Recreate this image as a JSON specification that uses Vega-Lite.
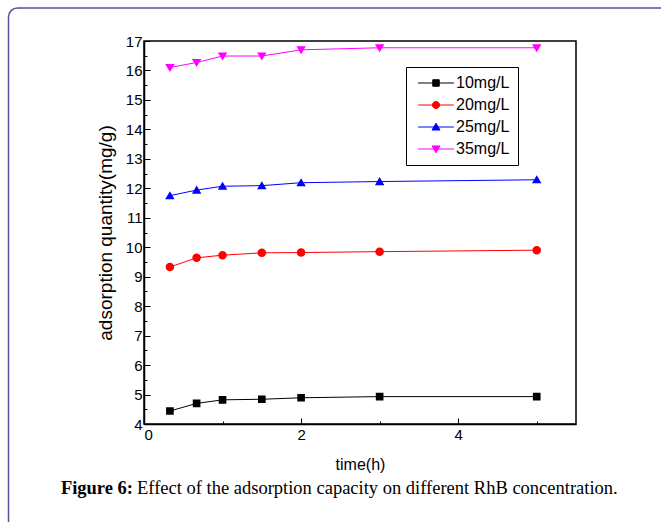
{
  "$schema": "https://vega.github.io/schema/vega-lite/v6.json",
  "width": 432,
  "height": 383,
  "autosize": {"type": "none"},
  "padding": {"left": 144, "top": 41, "right": 85, "bottom": 98},
  "background": "white",
  "config": {
    "view": {"stroke": "#000", "strokeWidth": 1.5},
    "font": "Liberation Sans"
  },
  "datasets": {
    "series": [
      {"t": 0.33, "c": "10mg/L", "q": 4.44},
      {"t": 0.67, "c": "10mg/L", "q": 4.70},
      {"t": 1.0, "c": "10mg/L", "q": 4.82},
      {"t": 1.5, "c": "10mg/L", "q": 4.84},
      {"t": 2.0, "c": "10mg/L", "q": 4.89},
      {"t": 3.0, "c": "10mg/L", "q": 4.93},
      {"t": 5.0, "c": "10mg/L", "q": 4.93},
      {"t": 0.33, "c": "20mg/L", "q": 9.33},
      {"t": 0.67, "c": "20mg/L", "q": 9.64},
      {"t": 1.0, "c": "20mg/L", "q": 9.73},
      {"t": 1.5, "c": "20mg/L", "q": 9.81},
      {"t": 2.0, "c": "20mg/L", "q": 9.82},
      {"t": 3.0, "c": "20mg/L", "q": 9.85},
      {"t": 5.0, "c": "20mg/L", "q": 9.90},
      {"t": 0.33, "c": "25mg/L", "q": 11.75},
      {"t": 0.67, "c": "25mg/L", "q": 11.94},
      {"t": 1.0, "c": "25mg/L", "q": 12.07},
      {"t": 1.5, "c": "25mg/L", "q": 12.09},
      {"t": 2.0, "c": "25mg/L", "q": 12.19},
      {"t": 3.0, "c": "25mg/L", "q": 12.23},
      {"t": 5.0, "c": "25mg/L", "q": 12.29},
      {"t": 0.33, "c": "35mg/L", "q": 16.10},
      {"t": 0.67, "c": "35mg/L", "q": 16.27},
      {"t": 1.0, "c": "35mg/L", "q": 16.49},
      {"t": 1.5, "c": "35mg/L", "q": 16.49},
      {"t": 2.0, "c": "35mg/L", "q": 16.70},
      {"t": 3.0, "c": "35mg/L", "q": 16.77},
      {"t": 5.0, "c": "35mg/L", "q": 16.77}
    ]
  },
  "layer": [
    {
      "data": {"values": [{"part": "frame"}]},
      "mark": {"type": "rect", "fill": "#ffffff", "fillOpacity": 0, "stroke": "#5a5099", "strokeWidth": 1.5, "cornerRadius": 9},
      "encoding": {
        "x": {"datum": -1.725, "type": "quantitative", "title": "time(h)",
          "scale": {"domain": [0, 5.5], "nice": false, "zero": false},
          "axis": {"values": [0, 1, 2, 3, 4, 5], "labelExpr": "datum.value % 2 === 0 ? format(datum.value, 'd') : ''", "grid": false, "domainColor": "#000", "domainWidth": 1.5, "tickColor": "#000", "tickWidth": 1, "tickSize": {"condition": {"test": "datum.value % 2 === 0", "value": -6}, "value": -3}, "labelFontSize": 15, "labelColor": "#000", "labelPadding": 9, "titleFontSize": 16, "titleFontWeight": "normal", "titleColor": "#000", "titlePadding": 14}},
        "x2": {"datum": 7.1},
        "y": {"datum": 18.12, "type": "quantitative", "title": "adsorption quantity(mg/g)",
          "scale": {"domain": [4, 17], "nice": false, "zero": false},
          "axis": {"values": [4, 4.5, 5, 5.5, 6, 6.5, 7, 7.5, 8, 8.5, 9, 9.5, 10, 10.5, 11, 11.5, 12, 12.5, 13, 13.5, 14, 14.5, 15, 15.5, 16, 16.5, 17], "labelExpr": "datum.value % 1 === 0 ? format(datum.value, 'd') : ''", "grid": false, "domainColor": "#000", "domainWidth": 1.5, "tickColor": "#000", "tickWidth": 1, "tickSize": {"condition": {"test": "datum.value % 1 === 0", "value": -6}, "value": -3}, "labelFontSize": 15, "labelColor": "#000", "labelPadding": 8, "titleFontSize": 19, "titleFontWeight": "normal", "titleColor": "#000", "titlePadding": 10}},
        "y2": {"datum": -0.7}
      }
    },
    {
      "data": {"name": "series"},
      "mark": {"type": "line", "strokeWidth": 1},
      "encoding": {
        "x": {"field": "t", "type": "quantitative", "title": "time(h)",
          "scale": {"domain": [0, 5.5], "nice": false, "zero": false},
          "axis": {"values": [0, 1, 2, 3, 4, 5], "labelExpr": "datum.value % 2 === 0 ? format(datum.value, 'd') : ''", "grid": false, "domainColor": "#000", "domainWidth": 1.5, "tickColor": "#000", "tickWidth": 1, "tickSize": {"condition": {"test": "datum.value % 2 === 0", "value": -6}, "value": -3}, "labelFontSize": 15, "labelColor": "#000", "labelPadding": 9, "titleFontSize": 16, "titleFontWeight": "normal", "titleColor": "#000", "titlePadding": 14}},
        "y": {"field": "q", "type": "quantitative", "title": "adsorption quantity(mg/g)",
          "scale": {"domain": [4, 17], "nice": false, "zero": false},
          "axis": {"values": [4, 4.5, 5, 5.5, 6, 6.5, 7, 7.5, 8, 8.5, 9, 9.5, 10, 10.5, 11, 11.5, 12, 12.5, 13, 13.5, 14, 14.5, 15, 15.5, 16, 16.5, 17], "labelExpr": "datum.value % 1 === 0 ? format(datum.value, 'd') : ''", "grid": false, "domainColor": "#000", "domainWidth": 1.5, "tickColor": "#000", "tickWidth": 1, "tickSize": {"condition": {"test": "datum.value % 1 === 0", "value": -6}, "value": -3}, "labelFontSize": 15, "labelColor": "#000", "labelPadding": 8, "titleFontSize": 19, "titleFontWeight": "normal", "titleColor": "#000", "titlePadding": 10}},
        "color": {
          "field": "c", "type": "nominal",
          "scale": {"domain": ["10mg/L", "20mg/L", "25mg/L", "35mg/L"], "range": ["#000000", "#ff0000", "#0000ff", "#ff00ff"]},
          "legend": {"title": null, "orient": "none", "legendX": 262, "legendY": 26, "padding": 8, "strokeColor": "#000", "fillColor": "#fff", "labelFontSize": 16, "labelColor": "#000", "labelOffset": 12, "symbolOffset": 14, "symbolSize": 58, "symbolStrokeWidth": 1, "rowPadding": 6,
            "encode": {"symbols": {"update": {"stroke": {"scale": "color", "field": "value"}, "fill": {"scale": "color", "field": "value"}, "strokeWidth": {"value": 1}}}}}
        }
      }
    },
    {
      "data": {"name": "series"},
      "mark": {"type": "point", "filled": true, "opacity": 1, "strokeWidth": 0, "size": 81},
      "encoding": {
        "x": {"field": "t", "type": "quantitative", "title": "time(h)",
          "scale": {"domain": [0, 5.5], "nice": false, "zero": false},
          "axis": {"values": [0, 1, 2, 3, 4, 5], "labelExpr": "datum.value % 2 === 0 ? format(datum.value, 'd') : ''", "grid": false, "domainColor": "#000", "domainWidth": 1.5, "tickColor": "#000", "tickWidth": 1, "tickSize": {"condition": {"test": "datum.value % 2 === 0", "value": -6}, "value": -3}, "labelFontSize": 15, "labelColor": "#000", "labelPadding": 9, "titleFontSize": 16, "titleFontWeight": "normal", "titleColor": "#000", "titlePadding": 14}},
        "y": {"field": "q", "type": "quantitative", "title": "adsorption quantity(mg/g)",
          "scale": {"domain": [4, 17], "nice": false, "zero": false},
          "axis": {"values": [4, 4.5, 5, 5.5, 6, 6.5, 7, 7.5, 8, 8.5, 9, 9.5, 10, 10.5, 11, 11.5, 12, 12.5, 13, 13.5, 14, 14.5, 15, 15.5, 16, 16.5, 17], "labelExpr": "datum.value % 1 === 0 ? format(datum.value, 'd') : ''", "grid": false, "domainColor": "#000", "domainWidth": 1.5, "tickColor": "#000", "tickWidth": 1, "tickSize": {"condition": {"test": "datum.value % 1 === 0", "value": -6}, "value": -3}, "labelFontSize": 15, "labelColor": "#000", "labelPadding": 8, "titleFontSize": 19, "titleFontWeight": "normal", "titleColor": "#000", "titlePadding": 10}},
        "color": {
          "field": "c", "type": "nominal",
          "scale": {"domain": ["10mg/L", "20mg/L", "25mg/L", "35mg/L"], "range": ["#000000", "#ff0000", "#0000ff", "#ff00ff"]},
          "legend": {"title": null, "orient": "none", "legendX": 262, "legendY": 26, "padding": 8, "strokeColor": "#000", "fillColor": "#fff", "labelFontSize": 16, "labelColor": "#000", "labelOffset": 12, "symbolOffset": 14, "symbolSize": 58, "symbolStrokeWidth": 1, "rowPadding": 6,
            "encode": {"symbols": {"update": {"stroke": {"scale": "color", "field": "value"}, "fill": {"scale": "color", "field": "value"}, "strokeWidth": {"value": 1}}}}}
        },
        "shape": {
          "field": "c", "type": "nominal",
          "scale": {
            "domain": ["10mg/L", "20mg/L", "25mg/L", "35mg/L"],
            "range": [
              "M-4.7,0H4.7M-0.85,-0.85H0.85V0.85H-0.85Z",
              "M-4.7,0H4.7M-0.95,0A0.95,0.95 0 1,0 0.95,0A0.95,0.95 0 1,0 -0.95,0Z",
              "M-4.7,0H4.7M-1.05,0.8H1.05L0,-1Z",
              "M-4.7,0H4.7M-1.05,-0.8H1.05L0,1Z"
            ]
          },
          "legend": {"title": null, "orient": "none", "legendX": 262, "legendY": 26, "padding": 8, "strokeColor": "#000", "fillColor": "#fff", "labelFontSize": 16, "labelColor": "#000", "labelOffset": 12, "symbolOffset": 14, "symbolSize": 58, "symbolStrokeWidth": 1, "rowPadding": 6,
            "encode": {"symbols": {"update": {"stroke": {"scale": "color", "field": "value"}, "fill": {"scale": "color", "field": "value"}, "strokeWidth": {"value": 1}}}}}
        }
      }
    },
    {
      "data": {"values": [{"label": "Figure 6:"}]},
      "mark": {"type": "text", "font": "Liberation Serif", "fontSize": 18.5, "fontWeight": "bold", "align": "right", "baseline": "alphabetic", "color": "#000"},
      "encoding": {
        "x": {"datum": -0.14, "type": "quantitative", "title": "time(h)",
          "scale": {"domain": [0, 5.5], "nice": false, "zero": false},
          "axis": {"values": [0, 1, 2, 3, 4, 5], "labelExpr": "datum.value % 2 === 0 ? format(datum.value, 'd') : ''", "grid": false, "domainColor": "#000", "domainWidth": 1.5, "tickColor": "#000", "tickWidth": 1, "tickSize": {"condition": {"test": "datum.value % 2 === 0", "value": -6}, "value": -3}, "labelFontSize": 15, "labelColor": "#000", "labelPadding": 9, "titleFontSize": 16, "titleFontWeight": "normal", "titleColor": "#000", "titlePadding": 14}},
        "y": {"datum": 1.624, "type": "quantitative", "title": "adsorption quantity(mg/g)",
          "scale": {"domain": [4, 17], "nice": false, "zero": false},
          "axis": {"values": [4, 4.5, 5, 5.5, 6, 6.5, 7, 7.5, 8, 8.5, 9, 9.5, 10, 10.5, 11, 11.5, 12, 12.5, 13, 13.5, 14, 14.5, 15, 15.5, 16, 16.5, 17], "labelExpr": "datum.value % 1 === 0 ? format(datum.value, 'd') : ''", "grid": false, "domainColor": "#000", "domainWidth": 1.5, "tickColor": "#000", "tickWidth": 1, "tickSize": {"condition": {"test": "datum.value % 1 === 0", "value": -6}, "value": -3}, "labelFontSize": 15, "labelColor": "#000", "labelPadding": 8, "titleFontSize": 19, "titleFontWeight": "normal", "titleColor": "#000", "titlePadding": 10}},
        "text": {"field": "label"}
      }
    },
    {
      "data": {"values": [{"label": "Effect of the adsorption capacity on different RhB concentration."}]},
      "mark": {"type": "text", "font": "Liberation Serif", "fontSize": 18.5, "align": "left", "baseline": "alphabetic", "color": "#000"},
      "encoding": {
        "x": {"datum": -0.089, "type": "quantitative", "title": "time(h)",
          "scale": {"domain": [0, 5.5], "nice": false, "zero": false},
          "axis": {"values": [0, 1, 2, 3, 4, 5], "labelExpr": "datum.value % 2 === 0 ? format(datum.value, 'd') : ''", "grid": false, "domainColor": "#000", "domainWidth": 1.5, "tickColor": "#000", "tickWidth": 1, "tickSize": {"condition": {"test": "datum.value % 2 === 0", "value": -6}, "value": -3}, "labelFontSize": 15, "labelColor": "#000", "labelPadding": 9, "titleFontSize": 16, "titleFontWeight": "normal", "titleColor": "#000", "titlePadding": 14}},
        "y": {"datum": 1.624, "type": "quantitative", "title": "adsorption quantity(mg/g)",
          "scale": {"domain": [4, 17], "nice": false, "zero": false},
          "axis": {"values": [4, 4.5, 5, 5.5, 6, 6.5, 7, 7.5, 8, 8.5, 9, 9.5, 10, 10.5, 11, 11.5, 12, 12.5, 13, 13.5, 14, 14.5, 15, 15.5, 16, 16.5, 17], "labelExpr": "datum.value % 1 === 0 ? format(datum.value, 'd') : ''", "grid": false, "domainColor": "#000", "domainWidth": 1.5, "tickColor": "#000", "tickWidth": 1, "tickSize": {"condition": {"test": "datum.value % 1 === 0", "value": -6}, "value": -3}, "labelFontSize": 15, "labelColor": "#000", "labelPadding": 8, "titleFontSize": 19, "titleFontWeight": "normal", "titleColor": "#000", "titlePadding": 10}},
        "text": {"field": "label"}
      }
    }
  ]
}
